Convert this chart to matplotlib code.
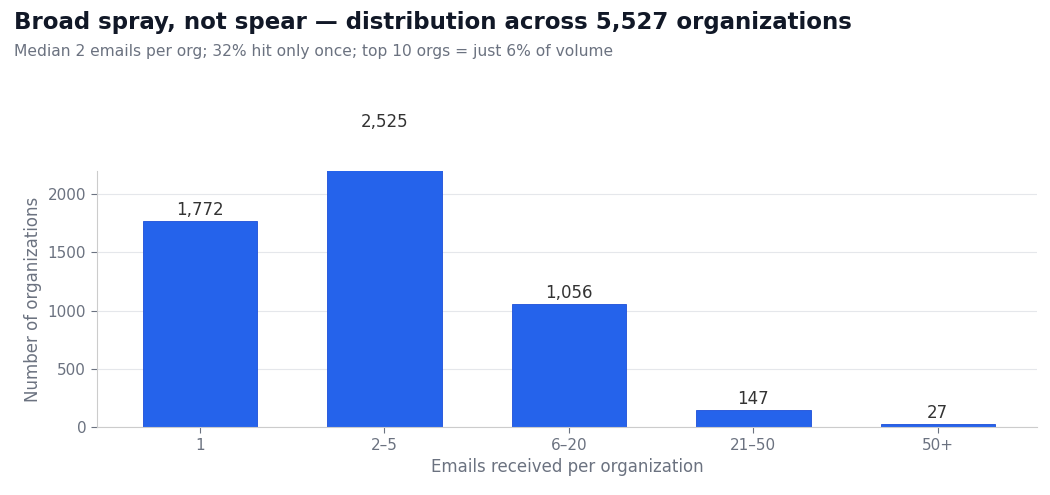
import matplotlib
matplotlib.use("Agg")
import matplotlib.pyplot as plt

categories = ["1", "2–5", "6–20", "21–50", "50+"]
counts = [1772, 2525, 1056, 147, 27]

BAR = "#2563eb"
GRID = "#e5e7eb"
TXT = "#6b7280"

fig = plt.figure(figsize=(10.5, 4.95), dpi=100)
ax = fig.add_axes([0.092, 0.137, 0.896, 0.518])

x = range(len(categories))
bars = ax.bar(x, counts, width=0.62, color=BAR, edgecolor="#1d4ed8", linewidth=0.6, zorder=2)
for b, v in zip(bars, counts):
    ax.text(b.get_x() + b.get_width() / 2, v + 15, f"{v:,}", ha="center", va="bottom",
            fontsize=12, color="#333333", clip_on=False)

ax.set_ylim(0, 2200)
ax.set_xlim(-0.56, 4.54)
ax.set_yticks([0, 500, 1000, 1500, 2000])
ax.set_xticks(list(x))
ax.set_xticklabels(categories)
ax.tick_params(colors=TXT, labelsize=11, length=4)
ax.grid(axis="y", color=GRID, lw=0.8, zorder=0)
for s in ("top", "right"):
    ax.spines[s].set_visible(False)
for s in ("left", "bottom"):
    ax.spines[s].set_color("#cccccc")
ax.set_xlabel("Emails received per organization", fontsize=12, color=TXT)
ax.set_ylabel("Number of organizations", fontsize=12, color=TXT)

fig.text(0.013, 0.955, "Broad spray, not spear — distribution across 5,527 organizations",
         fontsize=16.5, fontweight="bold", color="#111827", va="center")
fig.text(0.013, 0.895, "Median 2 emails per org; 32% hit only once; top 10 orgs = just 6% of volume",
         fontsize=11.2, color=TXT, va="center")

fig.savefig("out.png", dpi=100)
